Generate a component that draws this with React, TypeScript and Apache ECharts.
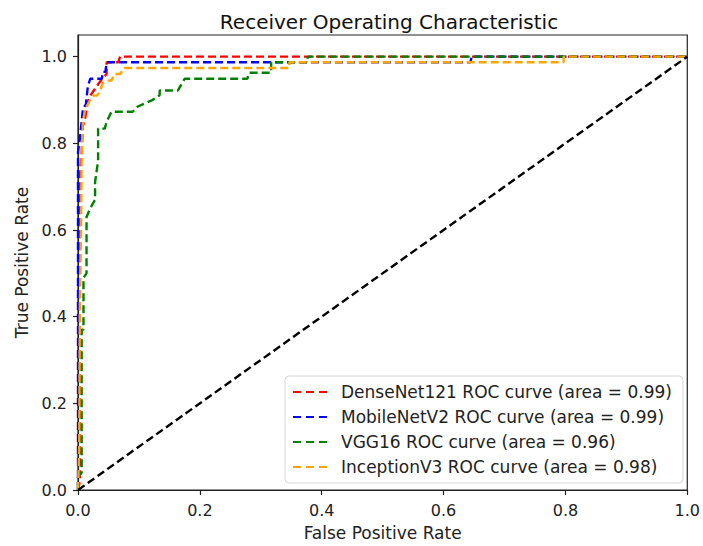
import React, { useEffect, useRef } from "react";
import * as echarts from "echarts";

const titleText = "Receiver Operating Characteristic";
const xAxisName = "False Positive Rate";
const yAxisName = "True Positive Rate";
const tickValues = [0, 0.2, 0.4, 0.6, 0.8, 1.0];

const seriesNames = [
  "DenseNet121 ROC curve (area = 0.99)",
  "MobileNetV2 ROC curve (area = 0.99)",
  "VGG16 ROC curve (area = 0.96)",
  "InceptionV3 ROC curve (area = 0.98)",
];
const seriesColors = ["#ff0000", "#0000ff", "#008000", "#ffa500"];

const denseNet = [
  [0, 0], [0.003, 0.02], [0.003, 0.72], [0.006, 0.78], [0.008, 0.84], [0.012, 0.86],
  [0.015, 0.89], [0.02, 0.91], [0.03, 0.93], [0.04, 0.95], [0.047, 0.96],
  [0.047, 0.987], [0.066, 0.987], [0.069, 1.0], [1, 1],
];
const mobileNet = [
  [0, 0], [0, 0.78], [0.003, 0.81], [0.006, 0.85], [0.008, 0.88], [0.013, 0.89],
  [0.016, 0.93], [0.02, 0.949], [0.039, 0.949], [0.041, 0.965], [0.045, 0.965],
  [0.047, 0.987], [0.644, 0.987], [0.646, 1.0], [1, 1],
];
const vgg16 = [
  [0, 0], [0, 0.03], [0.006, 0.04], [0.006, 0.37], [0.009, 0.37], [0.009, 0.49],
  [0.014, 0.5], [0.014, 0.63], [0.02, 0.65], [0.028, 0.67], [0.028, 0.71],
  [0.033, 0.76], [0.033, 0.834], [0.044, 0.834], [0.047, 0.85], [0.055, 0.873],
  [0.09, 0.873], [0.098, 0.885], [0.121, 0.899], [0.134, 0.911], [0.134, 0.922],
  [0.164, 0.922], [0.175, 0.949], [0.278, 0.949], [0.281, 0.963], [0.317, 0.963],
  [0.317, 0.987], [0.377, 0.987], [0.377, 1.0], [1, 1],
];
const inception = [
  [0, 0], [0.002, 0.1], [0.003, 0.42], [0.005, 0.6], [0.006, 0.78], [0.008, 0.85],
  [0.012, 0.88], [0.02, 0.9], [0.025, 0.91], [0.031, 0.91], [0.036, 0.92],
  [0.041, 0.94], [0.05, 0.945], [0.055, 0.945], [0.06, 0.96], [0.069, 0.96],
  [0.076, 0.974], [0.347, 0.974], [0.347, 0.987], [0.797, 0.987], [0.797, 1.0], [1, 1],
];
const chanceLine = [[0, 0], [1, 1]];

const curves = [denseNet, mobileNet, vgg16, inception];

export default function App() {
  const ref = useRef<HTMLDivElement>(null);
  useEffect(() => {
    if (!ref.current) return;
    const chart = echarts.init(ref.current, null, { renderer: "svg" });
    const font = "DejaVu Sans";
    const axisCommon = {
      min: 0,
      axisLine: { show: true, onZero: false, lineStyle: { color: "#222", width: 1.2 } },
      axisTick: { show: true, inside: false, length: 5, customValues: tickValues, lineStyle: { color: "#222", width: 1.2 } },
      axisLabel: {
        customValues: tickValues,
        formatter: (v: number) => v.toFixed(1),
        color: "#222",
        fontSize: 16,
        fontFamily: font,
      },
      splitLine: { show: false },
      nameLocation: "middle",
      nameTextStyle: { color: "#222", fontSize: 17, fontFamily: font },
    };
    chart.setOption({
      animation: false,
      backgroundColor: "#ffffff",
      title: {
        text: titleText,
        left: 384,
        textAlign: "center",
        top: 7,
        textStyle: { fontSize: 20, fontWeight: "normal", color: "#111", fontFamily: font },
      },
      grid: {
        left: 78,
        right: 13,
        top: 35,
        bottom: 54,
        show: true,
        borderColor: "#222",
        borderWidth: 1.2,
        backgroundColor: "transparent",
      },
      xAxis: {
        ...axisCommon,
        type: "value",
        max: 1,
        name: xAxisName,
        nameGap: 34,
        axisLabel: { ...axisCommon.axisLabel, margin: 12 },
      },
      yAxis: {
        ...axisCommon,
        type: "value",
        max: 1.05,
        name: yAxisName,
        nameGap: 44,
        axisLabel: { ...axisCommon.axisLabel, margin: 11 },
      },
      legend: {
        orient: "vertical",
        left: 285,
        top: 376,
        data: seriesNames,
        icon: "path://M0,0H8V2H0Z M13,0H21V2H13Z M26,0H34V2H26Z",
        itemWidth: 34,
        itemHeight: 2.5,
        itemGap: 5,
        padding: [6, 11, 6, 8],
        backgroundColor: "#ffffff",
        borderColor: "#d6d6d6",
        borderWidth: 1,
        borderRadius: 4,
        textStyle: { fontSize: 17, lineHeight: 20, color: "#222", fontFamily: font, padding: [0, 0, 0, 9] },
      },
      series: [
        ...curves.map((d, i) => ({
          name: seriesNames[i],
          type: "line",
          data: d,
          symbol: "none",
          color: seriesColors[i],
          lineStyle: { color: seriesColors[i], width: 2.4, type: [8, 4] },
          z: 2 + i,
        })),
        {
          name: "chance",
          type: "line",
          data: chanceLine,
          symbol: "none",
          color: "#000",
          lineStyle: { color: "#000", width: 2.4, type: [8, 4] },
          z: 10,
        },
      ],
    });
    return () => chart.dispose();
  }, []);
  return (
    <div
      ref={ref}
      style={{ position: "fixed", left: 0, top: 0, width: 703, height: 546 }}
    />
  );
}
